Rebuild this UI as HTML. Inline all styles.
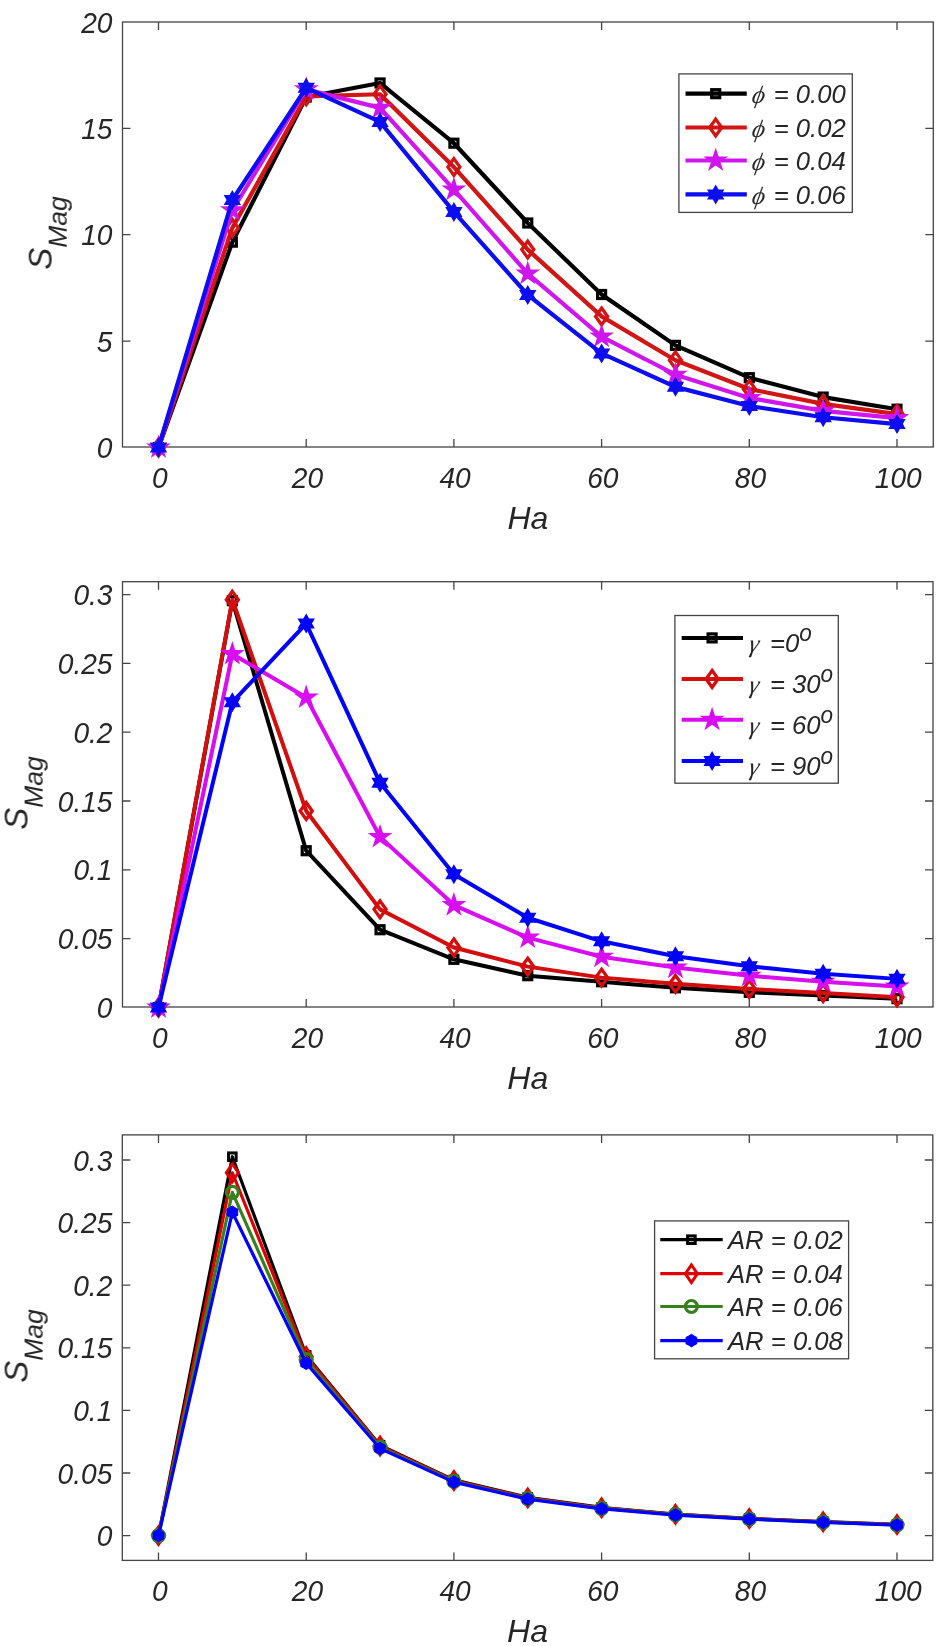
<!DOCTYPE html>
<html><head><meta charset="utf-8"><title>S_Mag vs Ha</title>
<style>html,body{margin:0;padding:0;background:#fff}svg{display:block}.t{font-family:'Liberation Sans',sans-serif;font-style:italic}.g{font-family:'Liberation Serif',serif;font-style:italic}</style></head>
<body><svg style="will-change:transform" width="940" height="1646" viewBox="0 0 940 1646">
<defs><filter id="soft" x="0" y="0" width="100%" height="100%" filterUnits="userSpaceOnUse"><feGaussianBlur stdDeviation="0.45"/></filter></defs>
<rect width="940" height="1646" fill="#ffffff"/>
<g filter="url(#soft)">
<rect x="122.50" y="22.00" width="810.80" height="425.00" fill="#fff" stroke="#444444" stroke-width="1.3"/>
<path d="M158.50 447.00V439.00M158.50 22.00V30.00" stroke="#444444" stroke-width="1.3"/>
<text transform="translate(159.70,488.00) scale(0.970,1)" text-anchor="middle" font-size="29" fill="#262626" class="t">0</text>
<path d="M306.20 447.00V439.00M306.20 22.00V30.00" stroke="#444444" stroke-width="1.3"/>
<text transform="translate(307.40,488.00) scale(0.970,1)" text-anchor="middle" font-size="29" fill="#262626" class="t">20</text>
<path d="M453.90 447.00V439.00M453.90 22.00V30.00" stroke="#444444" stroke-width="1.3"/>
<text transform="translate(455.10,488.00) scale(0.970,1)" text-anchor="middle" font-size="29" fill="#262626" class="t">40</text>
<path d="M601.60 447.00V439.00M601.60 22.00V30.00" stroke="#444444" stroke-width="1.3"/>
<text transform="translate(602.80,488.00) scale(0.970,1)" text-anchor="middle" font-size="29" fill="#262626" class="t">60</text>
<path d="M749.30 447.00V439.00M749.30 22.00V30.00" stroke="#444444" stroke-width="1.3"/>
<text transform="translate(750.50,488.00) scale(0.970,1)" text-anchor="middle" font-size="29" fill="#262626" class="t">80</text>
<path d="M897.00 447.00V439.00M897.00 22.00V30.00" stroke="#444444" stroke-width="1.3"/>
<text transform="translate(898.20,488.00) scale(0.970,1)" text-anchor="middle" font-size="29" fill="#262626" class="t">100</text>
<text transform="translate(112.50,458.10) scale(0.970,1)" text-anchor="end" font-size="29" fill="#262626" class="t">0</text>
<path d="M122.50 341.10H130.50M933.30 341.10H925.30" stroke="#444444" stroke-width="1.3"/>
<text transform="translate(112.50,351.70) scale(0.970,1)" text-anchor="end" font-size="29" fill="#262626" class="t">5</text>
<path d="M122.50 234.70H130.50M933.30 234.70H925.30" stroke="#444444" stroke-width="1.3"/>
<text transform="translate(112.50,245.30) scale(0.970,1)" text-anchor="end" font-size="29" fill="#262626" class="t">10</text>
<path d="M122.50 128.30H130.50M933.30 128.30H925.30" stroke="#444444" stroke-width="1.3"/>
<text transform="translate(112.50,138.90) scale(0.970,1)" text-anchor="end" font-size="29" fill="#262626" class="t">15</text>
<text transform="translate(112.50,32.50) scale(0.970,1)" text-anchor="end" font-size="29" fill="#262626" class="t">20</text>
<text transform="translate(527.90,529.00) scale(1.000,1)" text-anchor="middle" font-size="32" fill="#262626" class="t">Ha</text>
<g transform="translate(51.70,233.00) rotate(-90)"><text x="0" y="0" text-anchor="middle" font-size="33" fill="#262626" class="t">S<tspan font-size="26.5" dy="14.5">Mag</tspan></text></g>
<polyline points="158.50,447.50 232.35,242.15 306.20,97.02 380.05,82.97 453.90,143.20 527.75,223.00 601.60,294.50 675.45,345.36 749.30,377.70 823.15,397.07 897.00,409.20" fill="none" stroke="#000000" stroke-width="4.20" stroke-linejoin="round"/>
<rect x="154.50" y="443.50" width="8.00" height="8.00" fill="none" stroke="#000000" stroke-width="3.20"/>
<rect x="228.35" y="238.15" width="8.00" height="8.00" fill="none" stroke="#000000" stroke-width="3.20"/>
<rect x="302.20" y="93.02" width="8.00" height="8.00" fill="none" stroke="#000000" stroke-width="3.20"/>
<rect x="376.05" y="78.97" width="8.00" height="8.00" fill="none" stroke="#000000" stroke-width="3.20"/>
<rect x="449.90" y="139.20" width="8.00" height="8.00" fill="none" stroke="#000000" stroke-width="3.20"/>
<rect x="523.75" y="219.00" width="8.00" height="8.00" fill="none" stroke="#000000" stroke-width="3.20"/>
<rect x="597.60" y="290.50" width="8.00" height="8.00" fill="none" stroke="#000000" stroke-width="3.20"/>
<rect x="671.45" y="341.36" width="8.00" height="8.00" fill="none" stroke="#000000" stroke-width="3.20"/>
<rect x="745.30" y="373.70" width="8.00" height="8.00" fill="none" stroke="#000000" stroke-width="3.20"/>
<rect x="819.15" y="393.07" width="8.00" height="8.00" fill="none" stroke="#000000" stroke-width="3.20"/>
<rect x="893.00" y="405.20" width="8.00" height="8.00" fill="none" stroke="#000000" stroke-width="3.20"/>
<polyline points="158.50,447.50 232.35,227.89 306.20,96.38 380.05,94.25 453.90,167.03 527.75,249.60 601.60,316.42 675.45,360.25 749.30,388.98 823.15,403.88 897.00,414.09" fill="none" stroke="#d21212" stroke-width="4.20" stroke-linejoin="round"/>
<polygon points="158.50,439.10 164.50,447.50 158.50,455.90 152.50,447.50" fill="none" stroke="#d21212" stroke-width="3.30" stroke-linejoin="miter" stroke-miterlimit="10"/>
<polygon points="232.35,219.49 238.35,227.89 232.35,236.29 226.35,227.89" fill="none" stroke="#d21212" stroke-width="3.30" stroke-linejoin="miter" stroke-miterlimit="10"/>
<polygon points="306.20,87.98 312.20,96.38 306.20,104.78 300.20,96.38" fill="none" stroke="#d21212" stroke-width="3.30" stroke-linejoin="miter" stroke-miterlimit="10"/>
<polygon points="380.05,85.85 386.05,94.25 380.05,102.65 374.05,94.25" fill="none" stroke="#d21212" stroke-width="3.30" stroke-linejoin="miter" stroke-miterlimit="10"/>
<polygon points="453.90,158.63 459.90,167.03 453.90,175.43 447.90,167.03" fill="none" stroke="#d21212" stroke-width="3.30" stroke-linejoin="miter" stroke-miterlimit="10"/>
<polygon points="527.75,241.20 533.75,249.60 527.75,258.00 521.75,249.60" fill="none" stroke="#d21212" stroke-width="3.30" stroke-linejoin="miter" stroke-miterlimit="10"/>
<polygon points="601.60,308.02 607.60,316.42 601.60,324.82 595.60,316.42" fill="none" stroke="#d21212" stroke-width="3.30" stroke-linejoin="miter" stroke-miterlimit="10"/>
<polygon points="675.45,351.85 681.45,360.25 675.45,368.65 669.45,360.25" fill="none" stroke="#d21212" stroke-width="3.30" stroke-linejoin="miter" stroke-miterlimit="10"/>
<polygon points="749.30,380.58 755.30,388.98 749.30,397.38 743.30,388.98" fill="none" stroke="#d21212" stroke-width="3.30" stroke-linejoin="miter" stroke-miterlimit="10"/>
<polygon points="823.15,395.48 829.15,403.88 823.15,412.28 817.15,403.88" fill="none" stroke="#d21212" stroke-width="3.30" stroke-linejoin="miter" stroke-miterlimit="10"/>
<polygon points="897.00,405.69 903.00,414.09 897.00,422.49 891.00,414.09" fill="none" stroke="#d21212" stroke-width="3.30" stroke-linejoin="miter" stroke-miterlimit="10"/>
<polyline points="158.50,447.50 232.35,210.23 306.20,89.36 380.05,107.87 453.90,189.59 527.75,273.64 601.60,336.63 675.45,374.72 749.30,397.92 823.15,410.90 897.00,418.13" fill="none" stroke="#cf18ee" stroke-width="4.20" stroke-linejoin="round"/>
<polygon points="158.50,437.70 160.70,444.47 167.82,444.47 162.06,448.66 164.26,455.43 158.50,451.24 152.74,455.43 154.94,448.66 149.18,444.47 156.30,444.47" fill="#cf18ee" stroke="#cf18ee" stroke-width="2.00" stroke-linejoin="miter"/>
<polygon points="232.35,200.43 234.55,207.20 241.67,207.20 235.91,211.38 238.11,218.16 232.35,213.97 226.59,218.16 228.79,211.38 223.03,207.20 230.15,207.20" fill="#cf18ee" stroke="#cf18ee" stroke-width="2.00" stroke-linejoin="miter"/>
<polygon points="306.20,79.56 308.40,86.33 315.52,86.33 309.76,90.51 311.96,97.29 306.20,93.10 300.44,97.29 302.64,90.51 296.88,86.33 304.00,86.33" fill="#cf18ee" stroke="#cf18ee" stroke-width="2.00" stroke-linejoin="miter"/>
<polygon points="380.05,98.07 382.25,104.84 389.37,104.84 383.61,109.03 385.81,115.80 380.05,111.61 374.29,115.80 376.49,109.03 370.73,104.84 377.85,104.84" fill="#cf18ee" stroke="#cf18ee" stroke-width="2.00" stroke-linejoin="miter"/>
<polygon points="453.90,179.79 456.10,186.56 463.22,186.56 457.46,190.74 459.66,197.51 453.90,193.33 448.14,197.51 450.34,190.74 444.58,186.56 451.70,186.56" fill="#cf18ee" stroke="#cf18ee" stroke-width="2.00" stroke-linejoin="miter"/>
<polygon points="527.75,263.84 529.95,270.61 537.07,270.61 531.31,274.80 533.51,281.57 527.75,277.39 521.99,281.57 524.19,274.80 518.43,270.61 525.55,270.61" fill="#cf18ee" stroke="#cf18ee" stroke-width="2.00" stroke-linejoin="miter"/>
<polygon points="601.60,326.83 603.80,333.60 610.92,333.60 605.16,337.79 607.36,344.56 601.60,340.37 595.84,344.56 598.04,337.79 592.28,333.60 599.40,333.60" fill="#cf18ee" stroke="#cf18ee" stroke-width="2.00" stroke-linejoin="miter"/>
<polygon points="675.45,364.92 677.65,371.69 684.77,371.69 679.01,375.88 681.21,382.65 675.45,378.47 669.69,382.65 671.89,375.88 666.13,371.69 673.25,371.69" fill="#cf18ee" stroke="#cf18ee" stroke-width="2.00" stroke-linejoin="miter"/>
<polygon points="749.30,388.12 751.50,394.89 758.62,394.89 752.86,399.07 755.06,405.85 749.30,401.66 743.54,405.85 745.74,399.07 739.98,394.89 747.10,394.89" fill="#cf18ee" stroke="#cf18ee" stroke-width="2.00" stroke-linejoin="miter"/>
<polygon points="823.15,401.10 825.35,407.87 832.47,407.87 826.71,412.06 828.91,418.83 823.15,414.64 817.39,418.83 819.59,412.06 813.83,407.87 820.95,407.87" fill="#cf18ee" stroke="#cf18ee" stroke-width="2.00" stroke-linejoin="miter"/>
<polygon points="897.00,408.33 899.20,415.10 906.32,415.11 900.56,419.29 902.76,426.06 897.00,421.88 891.24,426.06 893.44,419.29 887.68,415.11 894.80,415.10" fill="#cf18ee" stroke="#cf18ee" stroke-width="2.00" stroke-linejoin="miter"/>
<polyline points="158.50,447.50 232.35,200.01 306.20,87.87 380.05,121.92 453.90,211.93 527.75,294.92 601.60,353.44 675.45,386.85 749.30,406.00 823.15,417.28 897.00,424.09" fill="none" stroke="#0808f2" stroke-width="4.20" stroke-linejoin="round"/>
<polygon points="158.50,439.50 160.81,443.50 165.43,443.50 163.12,447.50 165.43,451.50 160.81,451.50 158.50,455.50 156.19,451.50 151.57,451.50 153.88,447.50 151.57,443.50 156.19,443.50" fill="#0808f2" stroke="#0808f2" stroke-width="2.00" stroke-linejoin="miter"/>
<polygon points="232.35,192.01 234.66,196.02 239.28,196.01 236.97,200.01 239.28,204.01 234.66,204.01 232.35,208.01 230.04,204.01 225.42,204.01 227.73,200.01 225.42,196.01 230.04,196.02" fill="#0808f2" stroke="#0808f2" stroke-width="2.00" stroke-linejoin="miter"/>
<polygon points="306.20,79.87 308.51,83.87 313.13,83.87 310.82,87.87 313.13,91.87 308.51,91.87 306.20,95.87 303.89,91.87 299.27,91.87 301.58,87.87 299.27,83.87 303.89,83.87" fill="#0808f2" stroke="#0808f2" stroke-width="2.00" stroke-linejoin="miter"/>
<polygon points="380.05,113.92 382.36,117.92 386.98,117.92 384.67,121.92 386.98,125.92 382.36,125.91 380.05,129.92 377.74,125.91 373.12,125.92 375.43,121.92 373.12,117.92 377.74,117.92" fill="#0808f2" stroke="#0808f2" stroke-width="2.00" stroke-linejoin="miter"/>
<polygon points="453.90,203.93 456.21,207.93 460.83,207.93 458.52,211.93 460.83,215.93 456.21,215.93 453.90,219.93 451.59,215.93 446.97,215.93 449.28,211.93 446.97,207.93 451.59,207.93" fill="#0808f2" stroke="#0808f2" stroke-width="2.00" stroke-linejoin="miter"/>
<polygon points="527.75,286.92 530.06,290.92 534.68,290.92 532.37,294.92 534.68,298.92 530.06,298.92 527.75,302.92 525.44,298.92 520.82,298.92 523.13,294.92 520.82,290.92 525.44,290.92" fill="#0808f2" stroke="#0808f2" stroke-width="2.00" stroke-linejoin="miter"/>
<polygon points="601.60,345.44 603.91,349.44 608.53,349.44 606.22,353.44 608.53,357.44 603.91,357.44 601.60,361.44 599.29,357.44 594.67,357.44 596.98,353.44 594.67,349.44 599.29,349.44" fill="#0808f2" stroke="#0808f2" stroke-width="2.00" stroke-linejoin="miter"/>
<polygon points="675.45,378.85 677.76,382.85 682.38,382.85 680.07,386.85 682.38,390.85 677.76,390.85 675.45,394.85 673.14,390.85 668.52,390.85 670.83,386.85 668.52,382.85 673.14,382.85" fill="#0808f2" stroke="#0808f2" stroke-width="2.00" stroke-linejoin="miter"/>
<polygon points="749.30,398.00 751.61,402.01 756.23,402.00 753.92,406.00 756.23,410.00 751.61,410.00 749.30,414.00 746.99,410.00 742.37,410.00 744.68,406.00 742.37,402.00 746.99,402.01" fill="#0808f2" stroke="#0808f2" stroke-width="2.00" stroke-linejoin="miter"/>
<polygon points="823.15,409.28 825.46,413.28 830.08,413.28 827.77,417.28 830.08,421.28 825.46,421.28 823.15,425.28 820.84,421.28 816.22,421.28 818.53,417.28 816.22,413.28 820.84,413.28" fill="#0808f2" stroke="#0808f2" stroke-width="2.00" stroke-linejoin="miter"/>
<polygon points="897.00,416.09 899.31,420.09 903.93,420.09 901.62,424.09 903.93,428.09 899.31,428.09 897.00,432.09 894.69,428.09 890.07,428.09 892.38,424.09 890.07,420.09 894.69,420.09" fill="#0808f2" stroke="#0808f2" stroke-width="2.00" stroke-linejoin="miter"/>
<rect x="678.90" y="73.90" width="173.40" height="138.50" fill="#fff" stroke="#444444" stroke-width="1.3"/>
<path d="M685.50 93.70H746.80" stroke="#000000" stroke-width="4.20"/>
<rect x="711.70" y="89.70" width="8.00" height="8.00" fill="none" stroke="#000000" stroke-width="3.20"/>
<text transform="translate(751.00,103.10) skewX(-10)" font-size="25" fill="#262626" class="g">ϕ</text>
<text transform="translate(773.70,103.10) scale(0.980,1)" text-anchor="start" font-size="26.2" fill="#262626" class="t">= 0.00</text>
<path d="M685.50 127.50H746.80" stroke="#d21212" stroke-width="4.20"/>
<polygon points="715.70,119.10 721.70,127.50 715.70,135.90 709.70,127.50" fill="none" stroke="#d21212" stroke-width="3.30" stroke-linejoin="miter" stroke-miterlimit="10"/>
<text transform="translate(751.00,136.90) skewX(-10)" font-size="25" fill="#262626" class="g">ϕ</text>
<text transform="translate(773.70,136.90) scale(0.980,1)" text-anchor="start" font-size="26.2" fill="#262626" class="t">= 0.02</text>
<path d="M685.50 160.50H746.80" stroke="#cf18ee" stroke-width="4.20"/>
<polygon points="715.70,150.70 717.90,157.47 725.02,157.47 719.26,161.66 721.46,168.43 715.70,164.24 709.94,168.43 712.14,161.66 706.38,157.47 713.50,157.47" fill="#cf18ee" stroke="#cf18ee" stroke-width="2.00" stroke-linejoin="miter"/>
<text transform="translate(751.00,169.90) skewX(-10)" font-size="25" fill="#262626" class="g">ϕ</text>
<text transform="translate(773.70,169.90) scale(0.980,1)" text-anchor="start" font-size="26.2" fill="#262626" class="t">= 0.04</text>
<path d="M685.50 194.40H746.80" stroke="#0808f2" stroke-width="4.20"/>
<polygon points="715.70,186.40 718.01,190.40 722.63,190.40 720.32,194.40 722.63,198.40 718.01,198.40 715.70,202.40 713.39,198.40 708.77,198.40 711.08,194.40 708.77,190.40 713.39,190.40" fill="#0808f2" stroke="#0808f2" stroke-width="2.00" stroke-linejoin="miter"/>
<text transform="translate(751.00,203.80) skewX(-10)" font-size="25" fill="#262626" class="g">ϕ</text>
<text transform="translate(773.70,203.80) scale(0.980,1)" text-anchor="start" font-size="26.2" fill="#262626" class="t">= 0.06</text>
<rect x="122.50" y="581.70" width="810.50" height="425.30" fill="#fff" stroke="#444444" stroke-width="1.3"/>
<path d="M158.50 1007.00V999.00M158.50 581.70V589.70" stroke="#444444" stroke-width="1.3"/>
<text transform="translate(159.70,1048.00) scale(0.970,1)" text-anchor="middle" font-size="29" fill="#262626" class="t">0</text>
<path d="M306.20 1007.00V999.00M306.20 581.70V589.70" stroke="#444444" stroke-width="1.3"/>
<text transform="translate(307.40,1048.00) scale(0.970,1)" text-anchor="middle" font-size="29" fill="#262626" class="t">20</text>
<path d="M453.90 1007.00V999.00M453.90 581.70V589.70" stroke="#444444" stroke-width="1.3"/>
<text transform="translate(455.10,1048.00) scale(0.970,1)" text-anchor="middle" font-size="29" fill="#262626" class="t">40</text>
<path d="M601.60 1007.00V999.00M601.60 581.70V589.70" stroke="#444444" stroke-width="1.3"/>
<text transform="translate(602.80,1048.00) scale(0.970,1)" text-anchor="middle" font-size="29" fill="#262626" class="t">60</text>
<path d="M749.30 1007.00V999.00M749.30 581.70V589.70" stroke="#444444" stroke-width="1.3"/>
<text transform="translate(750.50,1048.00) scale(0.970,1)" text-anchor="middle" font-size="29" fill="#262626" class="t">80</text>
<path d="M897.00 1007.00V999.00M897.00 581.70V589.70" stroke="#444444" stroke-width="1.3"/>
<text transform="translate(898.20,1048.00) scale(0.970,1)" text-anchor="middle" font-size="29" fill="#262626" class="t">100</text>
<text transform="translate(112.50,1018.10) scale(0.970,1)" text-anchor="end" font-size="29" fill="#262626" class="t">0</text>
<path d="M122.50 938.67H130.50M933.00 938.67H925.00" stroke="#444444" stroke-width="1.3"/>
<text transform="translate(112.50,949.27) scale(0.970,1)" text-anchor="end" font-size="29" fill="#262626" class="t">0.05</text>
<path d="M122.50 869.85H130.50M933.00 869.85H925.00" stroke="#444444" stroke-width="1.3"/>
<text transform="translate(112.50,880.45) scale(0.970,1)" text-anchor="end" font-size="29" fill="#262626" class="t">0.1</text>
<path d="M122.50 801.02H130.50M933.00 801.02H925.00" stroke="#444444" stroke-width="1.3"/>
<text transform="translate(112.50,811.62) scale(0.970,1)" text-anchor="end" font-size="29" fill="#262626" class="t">0.15</text>
<path d="M122.50 732.20H130.50M933.00 732.20H925.00" stroke="#444444" stroke-width="1.3"/>
<text transform="translate(112.50,742.80) scale(0.970,1)" text-anchor="end" font-size="29" fill="#262626" class="t">0.2</text>
<path d="M122.50 663.38H130.50M933.00 663.38H925.00" stroke="#444444" stroke-width="1.3"/>
<text transform="translate(112.50,673.98) scale(0.970,1)" text-anchor="end" font-size="29" fill="#262626" class="t">0.25</text>
<path d="M122.50 594.55H130.50M933.00 594.55H925.00" stroke="#444444" stroke-width="1.3"/>
<text transform="translate(112.50,605.15) scale(0.970,1)" text-anchor="end" font-size="29" fill="#262626" class="t">0.3</text>
<text transform="translate(527.75,1089.00) scale(1.000,1)" text-anchor="middle" font-size="32" fill="#262626" class="t">Ha</text>
<g transform="translate(27.60,793.00) rotate(-90)"><text x="0" y="0" text-anchor="middle" font-size="33" fill="#262626" class="t">S<tspan font-size="26.5" dy="14.5">Mag</tspan></text></g>
<polyline points="158.50,1007.50 232.35,600.74 306.20,850.72 380.05,929.73 453.90,959.32 527.75,975.70 601.60,981.76 675.45,987.82 749.30,992.36 823.15,995.52 897.00,998.69" fill="none" stroke="#000000" stroke-width="4.00" stroke-linejoin="round"/>
<rect x="154.50" y="1003.50" width="8.00" height="8.00" fill="none" stroke="#000000" stroke-width="3.20"/>
<rect x="228.35" y="596.74" width="8.00" height="8.00" fill="none" stroke="#000000" stroke-width="3.20"/>
<rect x="302.20" y="846.72" width="8.00" height="8.00" fill="none" stroke="#000000" stroke-width="3.20"/>
<rect x="376.05" y="925.73" width="8.00" height="8.00" fill="none" stroke="#000000" stroke-width="3.20"/>
<rect x="449.90" y="955.32" width="8.00" height="8.00" fill="none" stroke="#000000" stroke-width="3.20"/>
<rect x="523.75" y="971.70" width="8.00" height="8.00" fill="none" stroke="#000000" stroke-width="3.20"/>
<rect x="597.60" y="977.76" width="8.00" height="8.00" fill="none" stroke="#000000" stroke-width="3.20"/>
<rect x="671.45" y="983.82" width="8.00" height="8.00" fill="none" stroke="#000000" stroke-width="3.20"/>
<rect x="745.30" y="988.36" width="8.00" height="8.00" fill="none" stroke="#000000" stroke-width="3.20"/>
<rect x="819.15" y="991.52" width="8.00" height="8.00" fill="none" stroke="#000000" stroke-width="3.20"/>
<rect x="893.00" y="994.69" width="8.00" height="8.00" fill="none" stroke="#000000" stroke-width="3.20"/>
<polyline points="158.50,1007.50 232.35,599.78 306.20,810.94 380.05,909.36 453.90,947.48 527.75,966.62 601.60,977.63 675.45,983.82 749.30,989.05 823.15,993.05 897.00,997.18" fill="none" stroke="#d40808" stroke-width="4.00" stroke-linejoin="round"/>
<polygon points="158.50,999.10 164.50,1007.50 158.50,1015.90 152.50,1007.50" fill="none" stroke="#d40808" stroke-width="3.30" stroke-linejoin="miter" stroke-miterlimit="10"/>
<polygon points="232.35,591.38 238.35,599.78 232.35,608.18 226.35,599.78" fill="none" stroke="#d40808" stroke-width="3.30" stroke-linejoin="miter" stroke-miterlimit="10"/>
<polygon points="306.20,802.54 312.20,810.94 306.20,819.34 300.20,810.94" fill="none" stroke="#d40808" stroke-width="3.30" stroke-linejoin="miter" stroke-miterlimit="10"/>
<polygon points="380.05,900.96 386.05,909.36 380.05,917.76 374.05,909.36" fill="none" stroke="#d40808" stroke-width="3.30" stroke-linejoin="miter" stroke-miterlimit="10"/>
<polygon points="453.90,939.08 459.90,947.48 453.90,955.88 447.90,947.48" fill="none" stroke="#d40808" stroke-width="3.30" stroke-linejoin="miter" stroke-miterlimit="10"/>
<polygon points="527.75,958.22 533.75,966.62 527.75,975.02 521.75,966.62" fill="none" stroke="#d40808" stroke-width="3.30" stroke-linejoin="miter" stroke-miterlimit="10"/>
<polygon points="601.60,969.23 607.60,977.63 601.60,986.03 595.60,977.63" fill="none" stroke="#d40808" stroke-width="3.30" stroke-linejoin="miter" stroke-miterlimit="10"/>
<polygon points="675.45,975.42 681.45,983.82 675.45,992.22 669.45,983.82" fill="none" stroke="#d40808" stroke-width="3.30" stroke-linejoin="miter" stroke-miterlimit="10"/>
<polygon points="749.30,980.65 755.30,989.05 749.30,997.45 743.30,989.05" fill="none" stroke="#d40808" stroke-width="3.30" stroke-linejoin="miter" stroke-miterlimit="10"/>
<polygon points="823.15,984.65 829.15,993.05 823.15,1001.45 817.15,993.05" fill="none" stroke="#d40808" stroke-width="3.30" stroke-linejoin="miter" stroke-miterlimit="10"/>
<polygon points="897.00,988.78 903.00,997.18 897.00,1005.58 891.00,997.18" fill="none" stroke="#d40808" stroke-width="3.30" stroke-linejoin="miter" stroke-miterlimit="10"/>
<polyline points="158.50,1007.50 232.35,654.01 306.20,697.51 380.05,836.95 453.90,905.09 527.75,937.57 601.60,956.71 675.45,967.58 749.30,975.70 823.15,981.76 897.00,986.58" fill="none" stroke="#d808f2" stroke-width="4.00" stroke-linejoin="round"/>
<polygon points="158.50,997.70 160.70,1004.47 167.82,1004.47 162.06,1008.66 164.26,1015.43 158.50,1011.24 152.74,1015.43 154.94,1008.66 149.18,1004.47 156.30,1004.47" fill="#d808f2" stroke="#d808f2" stroke-width="2.00" stroke-linejoin="miter"/>
<polygon points="232.35,644.21 234.55,650.99 241.67,650.99 235.91,655.17 238.11,661.94 232.35,657.76 226.59,661.94 228.79,655.17 223.03,650.99 230.15,650.99" fill="#d808f2" stroke="#d808f2" stroke-width="2.00" stroke-linejoin="miter"/>
<polygon points="306.20,687.71 308.40,694.48 315.52,694.48 309.76,698.67 311.96,705.44 306.20,701.26 300.44,705.44 302.64,698.67 296.88,694.48 304.00,694.48" fill="#d808f2" stroke="#d808f2" stroke-width="2.00" stroke-linejoin="miter"/>
<polygon points="380.05,827.15 382.25,833.92 389.37,833.92 383.61,838.11 385.81,844.88 380.05,840.70 374.29,844.88 376.49,838.11 370.73,833.92 377.85,833.92" fill="#d808f2" stroke="#d808f2" stroke-width="2.00" stroke-linejoin="miter"/>
<polygon points="453.90,895.29 456.10,902.06 463.22,902.06 457.46,906.25 459.66,913.02 453.90,908.83 448.14,913.02 450.34,906.25 444.58,902.06 451.70,902.06" fill="#d808f2" stroke="#d808f2" stroke-width="2.00" stroke-linejoin="miter"/>
<polygon points="527.75,927.77 529.95,934.55 537.07,934.55 531.31,938.73 533.51,945.50 527.75,941.32 521.99,945.50 524.19,938.73 518.43,934.55 525.55,934.55" fill="#d808f2" stroke="#d808f2" stroke-width="2.00" stroke-linejoin="miter"/>
<polygon points="601.60,946.91 603.80,953.68 610.92,953.68 605.16,957.86 607.36,964.64 601.60,960.45 595.84,964.64 598.04,957.86 592.28,953.68 599.40,953.68" fill="#d808f2" stroke="#d808f2" stroke-width="2.00" stroke-linejoin="miter"/>
<polygon points="675.45,957.78 677.65,964.55 684.77,964.55 679.01,968.74 681.21,975.51 675.45,971.33 669.69,975.51 671.89,968.74 666.13,964.55 673.25,964.55" fill="#d808f2" stroke="#d808f2" stroke-width="2.00" stroke-linejoin="miter"/>
<polygon points="749.30,965.90 751.50,972.67 758.62,972.67 752.86,976.86 755.06,983.63 749.30,979.45 743.54,983.63 745.74,976.86 739.98,972.67 747.10,972.67" fill="#d808f2" stroke="#d808f2" stroke-width="2.00" stroke-linejoin="miter"/>
<polygon points="823.15,971.96 825.35,978.73 832.47,978.73 826.71,982.92 828.91,989.69 823.15,985.50 817.39,989.69 819.59,982.92 813.83,978.73 820.95,978.73" fill="#d808f2" stroke="#d808f2" stroke-width="2.00" stroke-linejoin="miter"/>
<polygon points="897.00,976.78 899.20,983.55 906.32,983.55 900.56,987.73 902.76,994.51 897.00,990.32 891.24,994.51 893.44,987.73 887.68,983.55 894.80,983.55" fill="#d808f2" stroke="#d808f2" stroke-width="2.00" stroke-linejoin="miter"/>
<polyline points="158.50,1007.50 232.35,702.19 306.20,623.59 380.05,782.86 453.90,874.25 527.75,917.75 601.60,941.29 675.45,956.29 749.30,966.34 823.15,973.64 897.00,978.87" fill="none" stroke="#0000ff" stroke-width="4.00" stroke-linejoin="round"/>
<polygon points="158.50,999.50 160.81,1003.50 165.43,1003.50 163.12,1007.50 165.43,1011.50 160.81,1011.50 158.50,1015.50 156.19,1011.50 151.57,1011.50 153.88,1007.50 151.57,1003.50 156.19,1003.50" fill="#0000ff" stroke="#0000ff" stroke-width="2.00" stroke-linejoin="miter"/>
<polygon points="232.35,694.19 234.66,698.19 239.28,698.19 236.97,702.19 239.28,706.19 234.66,706.19 232.35,710.19 230.04,706.19 225.42,706.19 227.73,702.19 225.42,698.19 230.04,698.19" fill="#0000ff" stroke="#0000ff" stroke-width="2.00" stroke-linejoin="miter"/>
<polygon points="306.20,615.59 308.51,619.60 313.13,619.59 310.82,623.59 313.13,627.59 308.51,627.59 306.20,631.59 303.89,627.59 299.27,627.59 301.58,623.59 299.27,619.59 303.89,619.60" fill="#0000ff" stroke="#0000ff" stroke-width="2.00" stroke-linejoin="miter"/>
<polygon points="380.05,774.86 382.36,778.86 386.98,778.86 384.67,782.86 386.98,786.86 382.36,786.85 380.05,790.86 377.74,786.85 373.12,786.86 375.43,782.86 373.12,778.86 377.74,778.86" fill="#0000ff" stroke="#0000ff" stroke-width="2.00" stroke-linejoin="miter"/>
<polygon points="453.90,866.25 456.21,870.26 460.83,870.25 458.52,874.25 460.83,878.25 456.21,878.25 453.90,882.25 451.59,878.25 446.97,878.25 449.28,874.25 446.97,870.25 451.59,870.26" fill="#0000ff" stroke="#0000ff" stroke-width="2.00" stroke-linejoin="miter"/>
<polygon points="527.75,909.75 530.06,913.75 534.68,913.75 532.37,917.75 534.68,921.75 530.06,921.75 527.75,925.75 525.44,921.75 520.82,921.75 523.13,917.75 520.82,913.75 525.44,913.75" fill="#0000ff" stroke="#0000ff" stroke-width="2.00" stroke-linejoin="miter"/>
<polygon points="601.60,933.29 603.91,937.29 608.53,937.29 606.22,941.29 608.53,945.29 603.91,945.29 601.60,949.29 599.29,945.29 594.67,945.29 596.98,941.29 594.67,937.29 599.29,937.29" fill="#0000ff" stroke="#0000ff" stroke-width="2.00" stroke-linejoin="miter"/>
<polygon points="675.45,948.29 677.76,952.30 682.38,952.29 680.07,956.29 682.38,960.29 677.76,960.29 675.45,964.29 673.14,960.29 668.52,960.29 670.83,956.29 668.52,952.29 673.14,952.30" fill="#0000ff" stroke="#0000ff" stroke-width="2.00" stroke-linejoin="miter"/>
<polygon points="749.30,958.34 751.61,962.35 756.23,962.34 753.92,966.34 756.23,970.34 751.61,970.34 749.30,974.34 746.99,970.34 742.37,970.34 744.68,966.34 742.37,962.34 746.99,962.35" fill="#0000ff" stroke="#0000ff" stroke-width="2.00" stroke-linejoin="miter"/>
<polygon points="823.15,965.64 825.46,969.64 830.08,969.64 827.77,973.64 830.08,977.64 825.46,977.64 823.15,981.64 820.84,977.64 816.22,977.64 818.53,973.64 816.22,969.64 820.84,969.64" fill="#0000ff" stroke="#0000ff" stroke-width="2.00" stroke-linejoin="miter"/>
<polygon points="897.00,970.87 899.31,974.87 903.93,974.87 901.62,978.87 903.93,982.87 899.31,982.87 897.00,986.87 894.69,982.87 890.07,982.87 892.38,978.87 890.07,974.87 894.69,974.87" fill="#0000ff" stroke="#0000ff" stroke-width="2.00" stroke-linejoin="miter"/>
<rect x="674.90" y="615.50" width="163.40" height="167.70" fill="#fff" stroke="#444444" stroke-width="1.3"/>
<path d="M681.70 637.90H743.00" stroke="#000000" stroke-width="4.00"/>
<rect x="708.10" y="633.90" width="8.00" height="8.00" fill="none" stroke="#000000" stroke-width="3.20"/>
<text transform="translate(747.90,651.90) skewX(-10)" font-size="25" fill="#262626" class="g">γ</text>
<text transform="translate(769.90,651.90) scale(0.980,1)" text-anchor="start" font-size="26.2" fill="#262626" class="t">=0<tspan font-size="23" dy="-11">o</tspan></text>
<path d="M681.70 678.90H743.00" stroke="#d40808" stroke-width="4.00"/>
<polygon points="712.10,670.50 718.10,678.90 712.10,687.30 706.10,678.90" fill="none" stroke="#d40808" stroke-width="3.30" stroke-linejoin="miter" stroke-miterlimit="10"/>
<text transform="translate(747.90,692.90) skewX(-10)" font-size="25" fill="#262626" class="g">γ</text>
<text transform="translate(769.90,692.90) scale(0.980,1)" text-anchor="start" font-size="26.2" fill="#262626" class="t">= 30<tspan font-size="23" dy="-11">o</tspan></text>
<path d="M681.70 719.80H743.00" stroke="#d808f2" stroke-width="4.00"/>
<polygon points="712.10,710.00 714.30,716.77 721.42,716.77 715.66,720.96 717.86,727.73 712.10,723.54 706.34,727.73 708.54,720.96 702.78,716.77 709.90,716.77" fill="#d808f2" stroke="#d808f2" stroke-width="2.00" stroke-linejoin="miter"/>
<text transform="translate(747.90,733.80) skewX(-10)" font-size="25" fill="#262626" class="g">γ</text>
<text transform="translate(769.90,733.80) scale(0.980,1)" text-anchor="start" font-size="26.2" fill="#262626" class="t">= 60<tspan font-size="23" dy="-11">o</tspan></text>
<path d="M681.70 760.90H743.00" stroke="#0000ff" stroke-width="4.00"/>
<polygon points="712.10,752.90 714.41,756.90 719.03,756.90 716.72,760.90 719.03,764.90 714.41,764.90 712.10,768.90 709.79,764.90 705.17,764.90 707.48,760.90 705.17,756.90 709.79,756.90" fill="#0000ff" stroke="#0000ff" stroke-width="2.00" stroke-linejoin="miter"/>
<text transform="translate(747.90,774.90) skewX(-10)" font-size="25" fill="#262626" class="g">γ</text>
<text transform="translate(769.90,774.90) scale(0.980,1)" text-anchor="start" font-size="26.2" fill="#262626" class="t">= 90<tspan font-size="23" dy="-11">o</tspan></text>
<rect x="122.30" y="1134.90" width="810.50" height="425.50" fill="#fff" stroke="#444444" stroke-width="1.3"/>
<path d="M158.50 1560.40V1552.40M158.50 1134.90V1142.90" stroke="#444444" stroke-width="1.3"/>
<text transform="translate(159.70,1601.00) scale(0.970,1)" text-anchor="middle" font-size="29" fill="#262626" class="t">0</text>
<path d="M306.20 1560.40V1552.40M306.20 1134.90V1142.90" stroke="#444444" stroke-width="1.3"/>
<text transform="translate(307.40,1601.00) scale(0.970,1)" text-anchor="middle" font-size="29" fill="#262626" class="t">20</text>
<path d="M453.90 1560.40V1552.40M453.90 1134.90V1142.90" stroke="#444444" stroke-width="1.3"/>
<text transform="translate(455.10,1601.00) scale(0.970,1)" text-anchor="middle" font-size="29" fill="#262626" class="t">40</text>
<path d="M601.60 1560.40V1552.40M601.60 1134.90V1142.90" stroke="#444444" stroke-width="1.3"/>
<text transform="translate(602.80,1601.00) scale(0.970,1)" text-anchor="middle" font-size="29" fill="#262626" class="t">60</text>
<path d="M749.30 1560.40V1552.40M749.30 1134.90V1142.90" stroke="#444444" stroke-width="1.3"/>
<text transform="translate(750.50,1601.00) scale(0.970,1)" text-anchor="middle" font-size="29" fill="#262626" class="t">80</text>
<path d="M897.00 1560.40V1552.40M897.00 1134.90V1142.90" stroke="#444444" stroke-width="1.3"/>
<text transform="translate(898.20,1601.00) scale(0.970,1)" text-anchor="middle" font-size="29" fill="#262626" class="t">100</text>
<path d="M122.30 1535.60H130.30M932.80 1535.60H924.80" stroke="#444444" stroke-width="1.3"/>
<text transform="translate(112.30,1546.20) scale(0.970,1)" text-anchor="end" font-size="29" fill="#262626" class="t">0</text>
<path d="M122.30 1473.00H130.30M932.80 1473.00H924.80" stroke="#444444" stroke-width="1.3"/>
<text transform="translate(112.30,1483.60) scale(0.970,1)" text-anchor="end" font-size="29" fill="#262626" class="t">0.05</text>
<path d="M122.30 1410.40H130.30M932.80 1410.40H924.80" stroke="#444444" stroke-width="1.3"/>
<text transform="translate(112.30,1421.00) scale(0.970,1)" text-anchor="end" font-size="29" fill="#262626" class="t">0.1</text>
<path d="M122.30 1347.80H130.30M932.80 1347.80H924.80" stroke="#444444" stroke-width="1.3"/>
<text transform="translate(112.30,1358.40) scale(0.970,1)" text-anchor="end" font-size="29" fill="#262626" class="t">0.15</text>
<path d="M122.30 1285.20H130.30M932.80 1285.20H924.80" stroke="#444444" stroke-width="1.3"/>
<text transform="translate(112.30,1295.80) scale(0.970,1)" text-anchor="end" font-size="29" fill="#262626" class="t">0.2</text>
<path d="M122.30 1222.60H130.30M932.80 1222.60H924.80" stroke="#444444" stroke-width="1.3"/>
<text transform="translate(112.30,1233.20) scale(0.970,1)" text-anchor="end" font-size="29" fill="#262626" class="t">0.25</text>
<path d="M122.30 1160.00H130.30M932.80 1160.00H924.80" stroke="#444444" stroke-width="1.3"/>
<text transform="translate(112.30,1170.60) scale(0.970,1)" text-anchor="end" font-size="29" fill="#262626" class="t">0.3</text>
<text transform="translate(527.55,1642.00) scale(1.000,1)" text-anchor="middle" font-size="32" fill="#262626" class="t">Ha</text>
<g transform="translate(27.60,1346.00) rotate(-90)"><text x="0" y="0" text-anchor="middle" font-size="33" fill="#262626" class="t">S<tspan font-size="26.5" dy="14.5">Mag</tspan></text></g>
<polyline points="158.50,1535.60 232.35,1156.74 306.20,1355.31 380.05,1445.21 453.90,1479.89 527.75,1497.41 601.60,1507.43 675.45,1514.07 749.30,1518.32 823.15,1521.58 897.00,1524.33" fill="none" stroke="#000000" stroke-width="3.20" stroke-linejoin="round"/>
<rect x="154.70" y="1531.80" width="7.60" height="7.60" fill="none" stroke="#000000" stroke-width="3.00"/>
<rect x="228.55" y="1152.94" width="7.60" height="7.60" fill="none" stroke="#000000" stroke-width="3.00"/>
<rect x="302.40" y="1351.51" width="7.60" height="7.60" fill="none" stroke="#000000" stroke-width="3.00"/>
<rect x="376.25" y="1441.41" width="7.60" height="7.60" fill="none" stroke="#000000" stroke-width="3.00"/>
<rect x="450.10" y="1476.09" width="7.60" height="7.60" fill="none" stroke="#000000" stroke-width="3.00"/>
<rect x="523.95" y="1493.61" width="7.60" height="7.60" fill="none" stroke="#000000" stroke-width="3.00"/>
<rect x="597.80" y="1503.63" width="7.60" height="7.60" fill="none" stroke="#000000" stroke-width="3.00"/>
<rect x="671.65" y="1510.27" width="7.60" height="7.60" fill="none" stroke="#000000" stroke-width="3.00"/>
<rect x="745.50" y="1514.52" width="7.60" height="7.60" fill="none" stroke="#000000" stroke-width="3.00"/>
<rect x="819.35" y="1517.78" width="7.60" height="7.60" fill="none" stroke="#000000" stroke-width="3.00"/>
<rect x="893.20" y="1520.53" width="7.60" height="7.60" fill="none" stroke="#000000" stroke-width="3.00"/>
<polyline points="158.50,1535.60 232.35,1172.77 306.20,1356.56 380.05,1445.96 453.90,1480.51 527.75,1497.91 601.60,1507.81 675.45,1514.32 749.30,1518.57 823.15,1521.83 897.00,1524.58" fill="none" stroke="#e00000" stroke-width="3.20" stroke-linejoin="round"/>
<polygon points="158.50,1526.80 164.50,1535.60 158.50,1544.40 152.50,1535.60" fill="none" stroke="#e00000" stroke-width="3.00" stroke-linejoin="miter" stroke-miterlimit="10"/>
<polygon points="232.35,1163.97 238.35,1172.77 232.35,1181.57 226.35,1172.77" fill="none" stroke="#e00000" stroke-width="3.00" stroke-linejoin="miter" stroke-miterlimit="10"/>
<polygon points="306.20,1347.76 312.20,1356.56 306.20,1365.36 300.20,1356.56" fill="none" stroke="#e00000" stroke-width="3.00" stroke-linejoin="miter" stroke-miterlimit="10"/>
<polygon points="380.05,1437.16 386.05,1445.96 380.05,1454.76 374.05,1445.96" fill="none" stroke="#e00000" stroke-width="3.00" stroke-linejoin="miter" stroke-miterlimit="10"/>
<polygon points="453.90,1471.71 459.90,1480.51 453.90,1489.31 447.90,1480.51" fill="none" stroke="#e00000" stroke-width="3.00" stroke-linejoin="miter" stroke-miterlimit="10"/>
<polygon points="527.75,1489.11 533.75,1497.91 527.75,1506.71 521.75,1497.91" fill="none" stroke="#e00000" stroke-width="3.00" stroke-linejoin="miter" stroke-miterlimit="10"/>
<polygon points="601.60,1499.01 607.60,1507.81 601.60,1516.61 595.60,1507.81" fill="none" stroke="#e00000" stroke-width="3.00" stroke-linejoin="miter" stroke-miterlimit="10"/>
<polygon points="675.45,1505.52 681.45,1514.32 675.45,1523.12 669.45,1514.32" fill="none" stroke="#e00000" stroke-width="3.00" stroke-linejoin="miter" stroke-miterlimit="10"/>
<polygon points="749.30,1509.77 755.30,1518.57 749.30,1527.37 743.30,1518.57" fill="none" stroke="#e00000" stroke-width="3.00" stroke-linejoin="miter" stroke-miterlimit="10"/>
<polygon points="823.15,1513.03 829.15,1521.83 823.15,1530.63 817.15,1521.83" fill="none" stroke="#e00000" stroke-width="3.00" stroke-linejoin="miter" stroke-miterlimit="10"/>
<polygon points="897.00,1515.78 903.00,1524.58 897.00,1533.38 891.00,1524.58" fill="none" stroke="#e00000" stroke-width="3.00" stroke-linejoin="miter" stroke-miterlimit="10"/>
<polyline points="158.50,1535.60 232.35,1192.30 306.20,1359.69 380.05,1447.21 453.90,1481.26 527.75,1498.54 601.60,1508.31 675.45,1514.69 749.30,1518.82 823.15,1522.08 897.00,1524.83" fill="none" stroke="#38801c" stroke-width="3.20" stroke-linejoin="round"/>
<circle cx="158.50" cy="1535.60" r="6.00" fill="none" stroke="#38801c" stroke-width="3.20"/>
<circle cx="232.35" cy="1192.30" r="6.00" fill="none" stroke="#38801c" stroke-width="3.20"/>
<circle cx="306.20" cy="1359.69" r="6.00" fill="none" stroke="#38801c" stroke-width="3.20"/>
<circle cx="380.05" cy="1447.21" r="6.00" fill="none" stroke="#38801c" stroke-width="3.20"/>
<circle cx="453.90" cy="1481.26" r="6.00" fill="none" stroke="#38801c" stroke-width="3.20"/>
<circle cx="527.75" cy="1498.54" r="6.00" fill="none" stroke="#38801c" stroke-width="3.20"/>
<circle cx="601.60" cy="1508.31" r="6.00" fill="none" stroke="#38801c" stroke-width="3.20"/>
<circle cx="675.45" cy="1514.69" r="6.00" fill="none" stroke="#38801c" stroke-width="3.20"/>
<circle cx="749.30" cy="1518.82" r="6.00" fill="none" stroke="#38801c" stroke-width="3.20"/>
<circle cx="823.15" cy="1522.08" r="6.00" fill="none" stroke="#38801c" stroke-width="3.20"/>
<circle cx="897.00" cy="1524.83" r="6.00" fill="none" stroke="#38801c" stroke-width="3.20"/>
<polyline points="158.50,1535.60 232.35,1212.21 306.20,1363.32 380.05,1448.46 453.90,1482.14 527.75,1499.17 601.60,1508.81 675.45,1515.07 749.30,1519.07 823.15,1522.33 897.00,1525.08" fill="none" stroke="#0000ff" stroke-width="3.20" stroke-linejoin="round"/>
<polygon points="158.50,1529.30 161.15,1531.02 163.96,1532.45 163.79,1535.60 163.96,1538.75 161.15,1540.18 158.50,1541.90 155.85,1540.18 153.04,1538.75 153.21,1535.60 153.04,1532.45 155.85,1531.02" fill="#0000ff" stroke="#0000ff" stroke-width="1" stroke-linejoin="round"/>
<polygon points="232.35,1205.91 235.00,1207.63 237.81,1209.06 237.64,1212.21 237.81,1215.36 235.00,1216.79 232.35,1218.51 229.70,1216.79 226.89,1215.36 227.06,1212.21 226.89,1209.06 229.70,1207.63" fill="#0000ff" stroke="#0000ff" stroke-width="1" stroke-linejoin="round"/>
<polygon points="306.20,1357.02 308.85,1358.74 311.66,1360.17 311.49,1363.32 311.66,1366.47 308.85,1367.91 306.20,1369.62 303.55,1367.91 300.74,1366.47 300.91,1363.32 300.74,1360.17 303.55,1358.74" fill="#0000ff" stroke="#0000ff" stroke-width="1" stroke-linejoin="round"/>
<polygon points="380.05,1442.16 382.70,1443.88 385.51,1445.31 385.34,1448.46 385.51,1451.61 382.70,1453.04 380.05,1454.76 377.40,1453.04 374.59,1451.61 374.76,1448.46 374.59,1445.31 377.40,1443.88" fill="#0000ff" stroke="#0000ff" stroke-width="1" stroke-linejoin="round"/>
<polygon points="453.90,1475.84 456.55,1477.56 459.36,1478.99 459.19,1482.14 459.36,1485.29 456.55,1486.72 453.90,1488.44 451.25,1486.72 448.44,1485.29 448.61,1482.14 448.44,1478.99 451.25,1477.56" fill="#0000ff" stroke="#0000ff" stroke-width="1" stroke-linejoin="round"/>
<polygon points="527.75,1492.87 530.40,1494.58 533.21,1496.02 533.04,1499.17 533.21,1502.32 530.40,1503.75 527.75,1505.47 525.10,1503.75 522.29,1502.32 522.46,1499.17 522.29,1496.02 525.10,1494.58" fill="#0000ff" stroke="#0000ff" stroke-width="1" stroke-linejoin="round"/>
<polygon points="601.60,1502.51 604.25,1504.22 607.06,1505.66 606.89,1508.81 607.06,1511.96 604.25,1513.39 601.60,1515.11 598.95,1513.39 596.14,1511.96 596.31,1508.81 596.14,1505.66 598.95,1504.22" fill="#0000ff" stroke="#0000ff" stroke-width="1" stroke-linejoin="round"/>
<polygon points="675.45,1508.77 678.10,1510.48 680.91,1511.92 680.74,1515.07 680.91,1518.22 678.10,1519.65 675.45,1521.37 672.80,1519.65 669.99,1518.22 670.16,1515.07 669.99,1511.92 672.80,1510.48" fill="#0000ff" stroke="#0000ff" stroke-width="1" stroke-linejoin="round"/>
<polygon points="749.30,1512.77 751.95,1514.49 754.76,1515.92 754.59,1519.07 754.76,1522.22 751.95,1523.66 749.30,1525.37 746.65,1523.66 743.84,1522.22 744.01,1519.07 743.84,1515.92 746.65,1514.49" fill="#0000ff" stroke="#0000ff" stroke-width="1" stroke-linejoin="round"/>
<polygon points="823.15,1516.03 825.80,1517.75 828.61,1519.18 828.44,1522.33 828.61,1525.48 825.80,1526.91 823.15,1528.63 820.50,1526.91 817.69,1525.48 817.86,1522.33 817.69,1519.18 820.50,1517.75" fill="#0000ff" stroke="#0000ff" stroke-width="1" stroke-linejoin="round"/>
<polygon points="897.00,1518.78 899.65,1520.50 902.46,1521.93 902.29,1525.08 902.46,1528.23 899.65,1529.67 897.00,1531.38 894.35,1529.67 891.54,1528.23 891.71,1525.08 891.54,1521.93 894.35,1520.50" fill="#0000ff" stroke="#0000ff" stroke-width="1" stroke-linejoin="round"/>
<rect x="654.60" y="1220.90" width="194.00" height="137.90" fill="#fff" stroke="#444444" stroke-width="1.3"/>
<path d="M660.30 1239.70H722.70" stroke="#000000" stroke-width="3.20"/>
<rect x="687.60" y="1235.90" width="7.60" height="7.60" fill="none" stroke="#000000" stroke-width="3.00"/>
<text transform="translate(728.00,1249.10) scale(0.980,1)" text-anchor="start" font-size="26.2" fill="#262626" class="t">AR = 0.02</text>
<path d="M660.30 1273.70H722.70" stroke="#e00000" stroke-width="3.20"/>
<polygon points="691.40,1264.90 697.40,1273.70 691.40,1282.50 685.40,1273.70" fill="none" stroke="#e00000" stroke-width="3.00" stroke-linejoin="miter" stroke-miterlimit="10"/>
<text transform="translate(728.00,1283.10) scale(0.980,1)" text-anchor="start" font-size="26.2" fill="#262626" class="t">AR = 0.04</text>
<path d="M660.30 1306.50H722.70" stroke="#38801c" stroke-width="3.20"/>
<circle cx="691.40" cy="1306.50" r="6.00" fill="none" stroke="#38801c" stroke-width="3.20"/>
<text transform="translate(728.00,1315.90) scale(0.980,1)" text-anchor="start" font-size="26.2" fill="#262626" class="t">AR = 0.06</text>
<path d="M660.30 1340.60H722.70" stroke="#0000ff" stroke-width="3.20"/>
<polygon points="691.40,1334.30 694.05,1336.02 696.86,1337.45 696.69,1340.60 696.86,1343.75 694.05,1345.18 691.40,1346.90 688.75,1345.18 685.94,1343.75 686.11,1340.60 685.94,1337.45 688.75,1336.02" fill="#0000ff" stroke="#0000ff" stroke-width="1" stroke-linejoin="round"/>
<text transform="translate(728.00,1350.00) scale(0.980,1)" text-anchor="start" font-size="26.2" fill="#262626" class="t">AR = 0.08</text>
</g>
</svg></body></html>
